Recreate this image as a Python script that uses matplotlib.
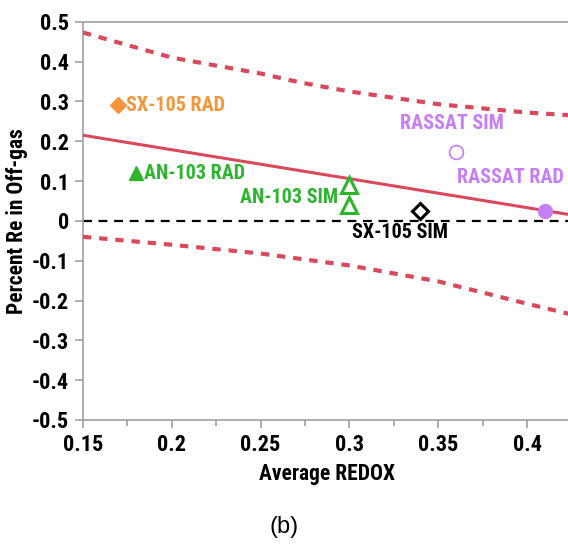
import matplotlib
matplotlib.use("Agg")
import matplotlib.pyplot as plt
from matplotlib.ticker import MultipleLocator

# ── data ─────────────────────────────────────────────────────────────────────
fit_x = [0.15, 0.425]
fit_y = [0.215, 0.015]

upper_x = [0.15, 0.2, 0.25, 0.273, 0.3, 0.35, 0.4, 0.425]
upper_y = [0.473, 0.41, 0.37, 0.347, 0.325, 0.293, 0.272, 0.265]

lower_x = [0.15, 0.2, 0.25, 0.3, 0.35, 0.4, 0.425]
lower_y = [-0.04, -0.06, -0.082, -0.112, -0.152, -0.208, -0.235]

sx105_rad = (0.17, 0.29)
an103_rad = (0.18, 0.12)
an103_sim_x = [0.30, 0.30]
an103_sim_y = [0.09, 0.04]
sx105_sim = (0.34, 0.025)
rassat_sim = (0.36, 0.172)
rassat_rad = (0.41, 0.025)

xticks = [0.15, 0.2, 0.25, 0.3, 0.35, 0.4]
yticks = [-0.5, -0.4, -0.3, -0.2, -0.1, 0, 0.1, 0.2, 0.3, 0.4, 0.5]

RED = "#d9495a"
ORANGE = "#f7953a"
GREEN = "#2db52d"
VIOLET = "#c77df3"

plt.rcParams["font.family"] = ["Roboto Condensed", "DejaVu Sans"]

fig = plt.figure(figsize=(5.68, 5.44), dpi=100)
ax = fig.add_axes([0.146, 0.228, 0.86, 0.732])

dots = (0, (2.0, 1.9))
ax.plot(fit_x, fit_y, color=RED, lw=2.2, zorder=3)
ax.plot(upper_x, upper_y, color=RED, lw=3.0, ls=dots, zorder=3)
ax.plot(lower_x, lower_y, color=RED, lw=3.0, ls=dots, zorder=3)
ax.axhline(0, color="black", lw=1.6, ls=(0, (4, 3)), zorder=2)

ax.plot(*sx105_rad, marker="D", ms=8, color=ORANGE, ls="none", zorder=4)
ax.plot(*an103_rad, marker="^", ms=10, color=GREEN, ls="none", zorder=4)
ax.plot(an103_sim_x, an103_sim_y, marker="^", ms=12, mfc="none", mec=GREEN,
        mew=2.2, ls="none", zorder=4)
ax.plot(*sx105_sim, marker="D", ms=8, mfc="none", mec="black", mew=2.2,
        ls="none", zorder=4)
ax.plot(*rassat_sim, marker="o", ms=10, mfc="none", mec=VIOLET, mew=1.2,
        ls="none", zorder=4)
ax.plot(*rassat_rad, marker="o", ms=10, color=VIOLET, ls="none", zorder=4)

lab = dict(fontsize=14.5, fontweight="bold", va="center")
ax.text(0.1745, 0.29, "SX-105 RAD", color=ORANGE, ha="left", **lab)
ax.text(0.1845, 0.12, "AN-103 RAD", color=GREEN, ha="left", **lab)
ax.text(0.2935, 0.058, "AN-103 SIM", color=GREEN, ha="right", **lab)
ax.text(0.3285, -0.03, "SX-105 SIM", color="black", ha="center", **lab)
ax.text(0.3575, 0.245, "RASSAT SIM", color=VIOLET, ha="center", **lab)
ax.text(0.3905, 0.108, "RASSAT RAD", color=VIOLET, ha="center", **lab)

ax.set_xlim(0.15, 0.425)
ax.set_ylim(-0.5, 0.5)
ax.xaxis.set_minor_locator(MultipleLocator(0.025))
ax.set_xticks(xticks)
ax.set_xticklabels(["%g" % v for v in xticks])
ax.set_yticks(yticks)
ax.set_yticklabels(["%g" % v for v in yticks])

for s in ["left", "bottom", "top"]:
    ax.spines[s].set_color("#a0a0a0")
    ax.spines[s].set_linewidth(1.2)
ax.spines["right"].set_visible(False)
ax.tick_params(which="both", direction="out", color="#a0a0a0", width=1.2)
ax.tick_params(which="major", length=6, labelsize=16, pad=4)
ax.tick_params(which="minor", length=4)
for t in ax.get_xticklabels() + ax.get_yticklabels():
    t.set_fontweight("bold")

ax.set_xlabel("Average REDOX", fontsize=15.5, fontweight="bold", labelpad=5)
ax.set_ylabel("Percent Re in Off-gas", fontsize=15.5, fontweight="bold", labelpad=3)

fig.text(0.5, 0.031, "(b)", ha="center", va="center", fontsize=17,
         family=["Liberation Sans", "DejaVu Sans"])

fig.savefig("out.png", dpi=100)
